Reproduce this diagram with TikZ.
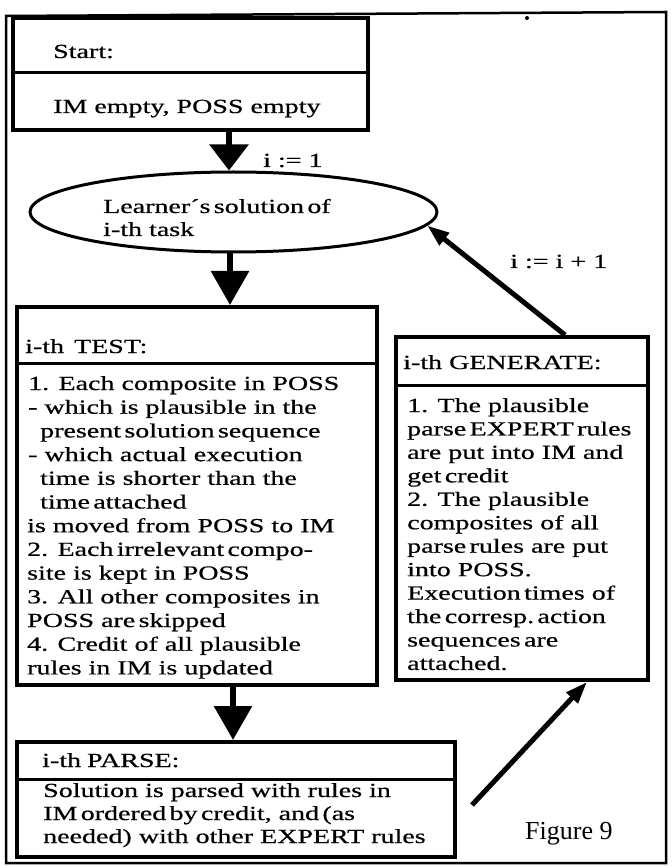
\documentclass[tikz,border=0pt]{standalone}
\usepackage{fontspec}
\setmainfont{Liberation Serif}[FakeStretch=1.4,FakeBold=0.6]
\newfontfamily\captionfont{Liberation Serif}
\usetikzlibrary{arrows.meta,shapes.geometric}

\tikzset{
  box/.style={draw, line width=4pt, rectangle, inner sep=0pt},
  divider/.style={line width=3pt},
  txt/.style={anchor=base west, inner sep=0pt, font=\fontsize{20}{24}\selectfont},
  bigarrow/.style={line width=6pt, -{Triangle[length=34pt,width=37pt]}},
  slimarrow/.style={line width=5pt, -{Triangle[length=22pt,width=15pt]}},
}

\begin{document}
\begin{tikzpicture}[x=1pt,y=-1pt]
\useasboundingbox (0,0) rectangle (671,866);

% outer frame
\draw[line width=2.5pt] (6,16) -- (666,12) -- (666,863) -- (6,863) -- cycle;
\fill (527,18) circle (2pt);

% boxes
\node[box, minimum width=355pt, minimum height=112pt] (start) at (190.5,74) {};
\node[draw, ellipse, line width=3pt, minimum width=407pt, minimum height=80pt, inner sep=0pt] (learner) at (233.5,212) {};
\node[box, minimum width=360pt, minimum height=378pt] (test) at (197,496) {};
\node[box, minimum width=252pt, minimum height=343pt] (generate) at (522,508.5) {};
\node[box, minimum width=438pt, minimum height=115pt] (parse) at (236,799.5) {};

% header dividers
\draw[divider] (start.west |- 0,73) -- (start.east |- 0,73);
\draw[divider] (test.west |- 0,363) -- (test.east |- 0,363);
\draw[divider] (generate.west |- 0,385) -- (generate.east |- 0,385);
\draw[divider] (parse.west |- 0,779) -- (parse.east |- 0,779);

% start box
\node[txt] (startHead) at (53,58) {Start:};
\node[txt] (startBody) at (53,113) {IM empty, POSS empty};

% ellipse text
\node[txt] (learnerL1) at (103,213) {Learner´s\,solution\,of};
\node[txt] (learnerL2) at (103,236) {i-th task};

% loop labels
\node[txt] (initLabel) at (263,167) {i := 1};
\node[txt] (incLabel) at (510,268) {i := i + 1};

% TEST box
\node[txt] (testHead) at (25,353) {i-th\hspace{0.5em}TEST:};
\foreach \x/\t [count=\i from 0] in {
  28/{1. Each composite in POSS},
  28/{- which is plausible in the},
  40/{present\,solution\,sequence},
  28/{- which actual execution},
  40/{time is shorter than the},
  40/{time\,attached},
  27/{is moved from POSS to IM},
  27/{2. Each\,irrelevant\,compo-},
  27/{site is kept in POSS},
  27/{3. All other composites in},
  27/{POSS are\,skipped},
  27/{4. Credit of all plausible},
  27/{rules in IM is updated}}
  \node[txt] (testL\i) at (\x,390+\i*23.7) {\t};

% GENERATE box
\node[txt] (generateHead) at (403,369) {i-th GENERATE:};
\foreach \t [count=\i from 0] in {
  {1. The plausible},
  {parse\,EXPERT\,rules},
  {are put into IM and},
  {get\,credit},
  {2. The plausible},
  {composites of all},
  {parse\,rules are put},
  {into POSS.},
  {Execution\,times of},
  {the\,corresp.\,action},
  {sequences\,are},
  {attached.}}
  \node[txt] (generateL\i) at (407,412+\i*23.45) {\t};

% PARSE box
\node[txt] (parseHead) at (42,767) {i-th\hspace{0.3em}PARSE:};
\foreach \t [count=\i from 0] in {
  {Solution is parsed with rules in},
  {IM\,ordered\,by\,credit, and\,(as},
  {needed) with other EXPERT rules}}
  \node[txt] (parseL\i) at (43,797+\i*23) {\t};

% caption
\node[anchor=base west, inner sep=0pt, font=\captionfont\fontsize{26}{30}\selectfont] (caption) at (525,839) {Figure 9};

% connectors
\coordinate (colA) at (229,0);
\coordinate (colB) at (230,0);
\coordinate (colC) at (233,0);
\draw[bigarrow, -{Triangle[length=26pt,width=38pt]}] (start.south -| colA) -- (learner.north -| colA);
\draw[bigarrow] (learner.south -| colB) -- (test.north -| colB);
\draw[bigarrow] (test.south -| colC) -- (parse.north -| colC);

\coordinate (parseOut) at (472,805);
\coordinate (genIn) at (587,0);
\coordinate (genOut) at (565,0);
\draw[slimarrow] (parseOut) -- (generate.south -| genIn);
\draw[slimarrow] (generate.north -| genOut) -- (learner.-4);
\end{tikzpicture}
\end{document}
